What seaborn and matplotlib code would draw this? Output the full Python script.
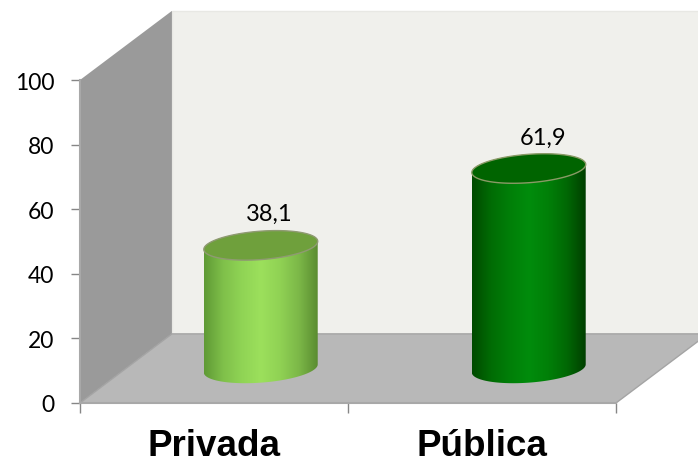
import numpy as np
import matplotlib
matplotlib.use("Agg")
import matplotlib.pyplot as plt
from matplotlib.colors import LinearSegmentedColormap
from matplotlib.patches import Polygon
import seaborn as sns

categorias = ["Privada", "Pública"]
valores = [38.1, 61.9]
rotulos = ["38,1", "61,9"]
yticks = [0, 20, 40, 60, 80, 100]

# gradiente do cilindro (esquerda -> direita), topo e contorno do topo
gradientes = [
    ["#5f9a35", "#7fc04a", "#90d455", "#9ce05c", "#90d254", "#7cb848", "#5a8c30"],
    ["#004a00", "#006c04", "#007f08", "#008c0c", "#008008", "#006804", "#003f00"],
]
topos = ["#6fa03c", "#006400"]
contornos = ["#8f9a72", "#8a9a66"]

sns.set_style("white")
plt.rcParams["font.family"] = ["Lato", "DejaVu Sans"]
plt.rcParams["text.color"] = "black"
plt.rcParams["xtick.labelcolor"] = "black"
plt.rcParams["ytick.labelcolor"] = "black"

fig = plt.figure(figsize=(6.98, 4.64), dpi=100)
ax = fig.add_axes([80 / 698, 60 / 464, 536 / 698, 323 / 464])

sns.barplot(x=categorias, y=valores, width=0.425, color="#9ce05c", ax=ax, zorder=3)
barras = list(ax.patches)

# falso 3D: profundidade em unidades dos eixos
dx, dy = 0.343, 21.4
x0, x1 = -0.5, 1.5
ym = yticks[-1]

ax.add_patch(Polygon([(x0 + dx, dy), (x1 + dx, dy), (x1 + dx, ym + dy), (x0 + dx, ym + dy)],
                     fc="#f0f0ec", ec="#e8e8e4", lw=1, clip_on=False, zorder=1))
ax.add_patch(Polygon([(x0, 0), (x0 + dx, dy), (x0 + dx, ym + dy), (x0, ym)],
                     fc="#9a9a9a", ec="none", clip_on=False, zorder=1.1))
ax.add_patch(Polygon([(x0, 0), (x1, 0), (x1 + dx, dy), (x0 + dx, dy)],
                     fc="#b8b8b8", ec="#a4a4a4", lw=1, clip_on=False, zorder=1.2))

t = np.linspace(0, 2 * np.pi, 200)
b, incl = 4.4, 1.25  # semi-altura e inclinacao da elipse
desvio_rotulo = [0.032, 0.052]

for i, barra in enumerate(barras):
    w = barra.get_width()
    cx = barra.get_x() + w / 2 + dx / 2 + 0.003
    base = dy / 2
    topo = base + valores[i]
    barra.set_x(cx - w / 2)
    barra.set_y(base)
    barra.set_visible(False)

    ex = cx + w / 2 * np.cos(t)
    ey = b * np.sin(t) + incl * np.cos(t)

    # corpo: metade de baixo da base + metade de cima do topo
    metade = t <= np.pi
    corpo = np.r_[np.c_[ex[metade], topo + ey[metade]], np.c_[ex[~metade], base + ey[~metade]]]
    cm = LinearSegmentedColormap.from_list("cil", gradientes[i])
    img = ax.imshow(np.linspace(0, 1, 256)[None, :], cmap=cm, aspect="auto", zorder=3,
                    extent=(cx - w / 2, cx + w / 2, base - 10, topo + 10))
    img.set_clip_path(Polygon(corpo, transform=ax.transData))
    ax.fill(ex, topo + ey, fc=topos[i], ec=contornos[i], lw=1, zorder=4, clip_on=False)
    ax.text(cx + desvio_rotulo[i], topo + ey.max() + 5.2, rotulos[i], ha="center", va="center",
            fontsize=17, color="black", zorder=5)

ax.set_xlim(x0, x1)
ax.set_ylim(0, ym)
ax.set_xlabel("")
ax.set_ylabel("")
ax.set_yticks(yticks)
ax.set_xticks([-0.5, 0.5, 1.5], labels=[])
ax.set_xticks([0, 1], labels=categorias, minor=True)

ax.tick_params(axis="y", left=True, length=6.5, width=1, color="#868686", pad=12, labelsize=16.5)
ax.tick_params(axis="x", which="major", bottom=True, length=7.5, width=1, color="#868686")
ax.tick_params(axis="x", which="minor", bottom=False, length=0, pad=18, labelsize=26.5)
for lab in ax.get_xticklabels(minor=True):
    lab.set_family("Liberation Sans")
    lab.set_fontweight("bold")
    lab.set_color("black")

sns.despine(ax=ax)
for lado in ["left", "bottom"]:
    ax.spines[lado].set_color("#a8a8a8")
    ax.spines[lado].set_linewidth(1.5)
    ax.spines[lado].set_zorder(2)

fig.savefig("out.png", dpi=100)
